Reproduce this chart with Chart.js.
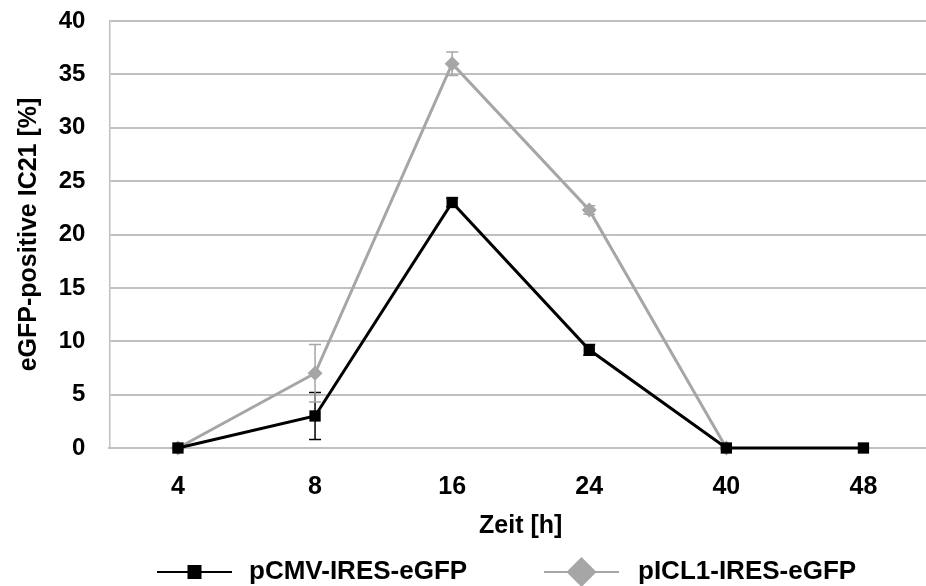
<!DOCTYPE html>
<html lang="de">
<head>
<meta charset="UTF-8">
<title>eGFP-positive IC21</title>
<script src="https://cdn.jsdelivr.net/npm/chart.js"></script>
<style>
  html, body { margin: 0; padding: 0; background: #fff; overflow: hidden; }
  #wrap { width: 926px; height: 586px; overflow: hidden; }
  canvas { display: block; }
</style>
</head>
<body>
<div id="wrap">
  <canvas id="zeitChart" width="940" height="586"></canvas>
</div>
<script>
// Messzeitpunkte und Mittelwerte mit Standardabweichung
const zeitLabels = ['4', '8', '16', '24', '40', '48'];
const pcmvWerte = [0, 3, 23, 9.2, 0, 0];
const pcmvFehler = [0, 2.2, 0.4, 0.5, 0, 0];
const picl1Werte = [0, 7, 36, 22.3, 0, null];
const picl1Fehler = [0, 2.7, 1.1, 0.4, 0, null];

const SCHWARZ = '#000000';
const GRAU = '#a6a6a6';
const SCHRIFT = '"Liberation Sans", Arial, sans-serif';

// Fehlerbalken unter die Linien zeichnen
const fehlerbalken = {
  id: 'fehlerbalken',
  beforeDatasetsDraw(chart) {
    const ctx = chart.ctx;
    const yScale = chart.scales.y;
    chart.data.datasets.forEach((ds, i) => {
      const meta = chart.getDatasetMeta(i);
      ctx.save();
      ctx.strokeStyle = ds.borderColor;
      ctx.lineWidth = 1.5;
      meta.data.forEach((pt, j) => {
        const wert = ds.data[j];
        const fehler = ds.fehler[j];
        if (wert == null || !fehler) return;
        const yo = yScale.getPixelForValue(wert + fehler);
        const yu = yScale.getPixelForValue(wert - fehler);
        ctx.beginPath();
        ctx.moveTo(pt.x, yo); ctx.lineTo(pt.x, yu);
        ctx.moveTo(pt.x - 6, yo); ctx.lineTo(pt.x + 6, yo);
        ctx.moveTo(pt.x - 6, yu); ctx.lineTo(pt.x + 6, yu);
        ctx.stroke();
      });
      ctx.restore();
    });
  }
};

// Legende unten: Linie mit Symbol und Text
const legendeUnten = {
  id: 'legendeUnten',
  afterDraw(chart) {
    const ctx = chart.ctx;
    const y = 572;
    const eintraege = [
      { ds: chart.data.datasets[0], x0: 157, x1: 232, tx: 249 },
      { ds: chart.data.datasets[1], x0: 544, x1: 619, tx: 638 }
    ];
    ctx.save();
    eintraege.forEach(e => {
      const mx = (e.x0 + e.x1) / 2;
      ctx.strokeStyle = e.ds.borderColor;
      ctx.lineWidth = 2;
      ctx.beginPath();
      ctx.moveTo(e.x0, y); ctx.lineTo(e.x1, y);
      ctx.stroke();
      ctx.fillStyle = e.ds.borderColor;
      ctx.beginPath();
      if (e.ds.pointStyle === 'rect') {
        ctx.rect(mx - 7, y - 7, 14, 14);
      } else {
        ctx.moveTo(mx, y - 15); ctx.lineTo(mx + 15, y);
        ctx.lineTo(mx, y + 15); ctx.lineTo(mx - 15, y);
        ctx.closePath();
      }
      ctx.fill();
      ctx.fillStyle = SCHWARZ;
      ctx.font = 'bold 26px ' + SCHRIFT;
      ctx.textBaseline = 'alphabetic';
      ctx.textAlign = 'left';
      ctx.fillText(e.ds.label, e.tx, y + 7);
    });
    ctx.restore();
  }
};

new Chart(document.getElementById('zeitChart'), {
  type: 'line',
  data: {
    labels: zeitLabels,
    datasets: [
      {
        label: 'pCMV-IRES-eGFP',
        data: pcmvWerte,
        fehler: pcmvFehler,
        borderColor: SCHWARZ,
        backgroundColor: SCHWARZ,
        borderWidth: 3,
        pointStyle: 'rect',
        pointRadius: 8,
        pointBorderWidth: 0,
        tension: 0,
        clip: false
      },
      {
        label: 'pICL1-IRES-eGFP',
        data: picl1Werte,
        fehler: picl1Fehler,
        borderColor: GRAU,
        backgroundColor: GRAU,
        borderWidth: 3,
        pointStyle: 'rectRot',
        pointRadius: 7.5,
        pointBorderWidth: 0,
        tension: 0,
        clip: false
      }
    ]
  },
  options: {
    responsive: false,
    animation: false,
    layout: { padding: { top: 21, right: 7.4, bottom: 38, left: 0 } },
    plugins: {
      legend: { display: false },
      tooltip: { enabled: false }
    },
    scales: {
      x: {
        offset: true,
        grid: { display: false, drawTicks: false },
        border: { color: '#c0c0c0', width: 2 },
        ticks: {
          color: SCHWARZ,
          padding: 24,
          font: { family: SCHRIFT, size: 25, weight: 'bold' }
        },
        title: {
          display: true,
          text: 'Zeit [h]',
          color: SCHWARZ,
          padding: { top: 0, bottom: 7 },
          font: { family: SCHRIFT, size: 25, weight: 'bold' }
        },
        afterFit(scale) { scale.height = 100; }
      },
      y: {
        min: 0,
        max: 40,
        ticks: {
          stepSize: 5,
          color: SCHWARZ,
          padding: 24,
          font: { family: SCHRIFT, size: 24, weight: 'bold' }
        },
        grid: { color: '#c0c0c0', lineWidth: 2, drawTicks: false },
        border: { color: '#c0c0c0', width: 1.5 },
        title: {
          display: true,
          text: 'eGFP-positive IC21 [%]',
          color: SCHWARZ,
          padding: { top: 14, bottom: 0 },
          font: { family: SCHRIFT, size: 25, weight: 'bold' }
        },
        afterFit(scale) {
          scale.width = 109.4;
          // Tick-Abstand nicht als Rand oben/unten mitrechnen
          scale.paddingTop = 0;
          scale.paddingBottom = 0;
        }
      }
    }
  },
  plugins: [fehlerbalken, legendeUnten]
});
</script>
</body>
</html>
